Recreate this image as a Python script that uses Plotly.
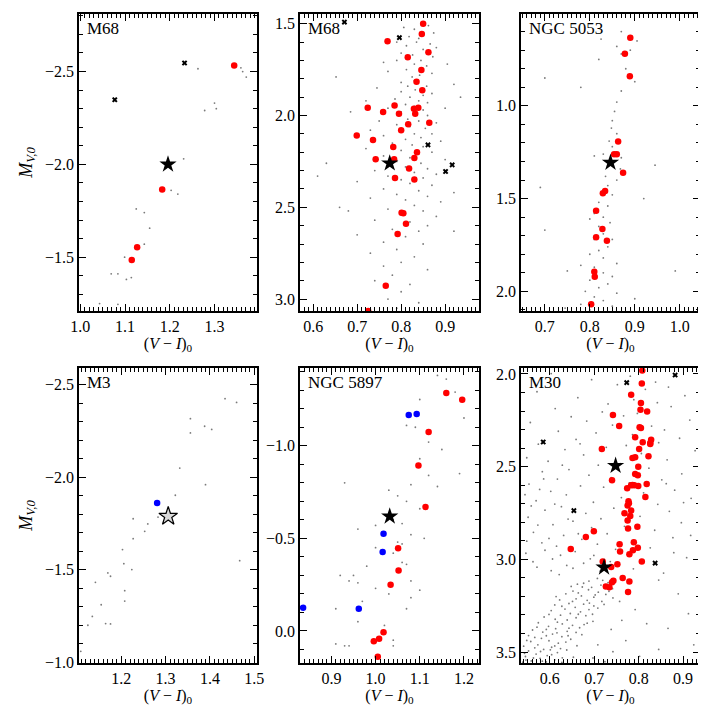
import plotly.graph_objects as go

FONT = "Liberation Serif"
RED = "#ff0000"
BLUE = "#0000ff"
GREY = "#7a7a7a"

# ---------------- M68, bright giants ----------------
m68a_field = [(1.263, -2.515), (1.359, -2.52), (1.363, -2.50), (1.371, -2.47), (1.300, -2.33),
              (1.304, -2.30), (1.278, -2.29), (1.231, -2.03), (1.203, -1.86), (1.218, -1.84),
              (1.125, -1.76), (1.143, -1.74), (1.155, -1.656), (1.143, -1.57), (1.099, -1.50),
              (1.069, -1.41), (1.084, -1.41), (1.103, -1.38), (1.114, -1.39), (1.043, -1.25),
              (1.084, -1.246)]
m68a_red = [(1.344, -2.533), (1.183, -1.864), (1.127, -1.553), (1.115, -1.485)]
m68a_cross = [(1.233, -2.546), (1.077, -2.348)]
m68a_star = [(1.196, -2.00)]

# ---------------- M68, fainter giants ----------------
m68b_field = [(0.806, 1.52), (0.83, 1.53), (0.862, 1.51), (0.874, 1.55), (0.818, 1.57), (0.84, 1.58),
              (0.79, 1.60), (0.812, 1.62), (0.835, 1.60), (0.866, 1.61), (0.88, 1.63), (0.85, 1.64),
              (0.80, 1.66), (0.826, 1.67), (0.872, 1.68), (0.79, 1.70), (0.845, 1.70), (0.76, 1.71),
              (0.83, 1.72), (0.858, 1.73), (0.905, 1.72), (0.812, 1.75), (0.77, 1.76), (0.87, 1.77),
              (0.842, 1.78), (0.825, 1.79), (0.652, 1.79), (0.83, 1.81), (0.80, 1.82), (0.815, 1.84),
              (0.858, 1.84), (0.92, 1.83), (0.745, 1.85), (0.832, 1.86), (0.80, 1.87), (0.87, 1.88),
              (0.85, 1.89), (0.82, 1.90), (0.786, 1.91), (0.84, 1.92), (0.72, 1.92), (0.86, 1.93),
              (0.935, 1.90), (0.81, 1.94), (0.83, 1.95), (0.77, 1.96), (0.90, 1.96), (0.85, 1.97),
              (0.685, 1.98), (0.80, 1.98), (0.86, 2.00), (0.815, 2.02), (0.75, 2.03), (0.84, 2.03),
              (0.88, 2.04), (0.79, 2.05), (0.82, 2.06), (0.855, 2.07), (0.73, 2.08), (0.80, 2.09),
              (0.83, 2.10), (0.87, 2.10), (0.76, 2.11), (0.845, 2.12), (0.81, 2.13), (0.89, 2.14),
              (0.78, 2.15), (0.825, 2.16), (0.85, 2.17), (0.72, 2.18), (0.80, 2.19), (0.87, 2.20),
              (0.84, 2.21), (0.76, 2.22), (0.82, 2.23), (0.90, 2.24), (0.63, 2.26), (0.79, 2.25),
              (0.845, 2.26), (0.81, 2.28), (0.86, 2.29), (0.74, 2.30), (0.83, 2.31), (0.88, 2.32),
              (0.77, 2.33), (0.85, 2.34), (0.61, 2.33), (0.80, 2.35), (0.70, 2.36), (0.82, 2.37),
              (0.87, 2.38), (0.76, 2.40), (0.84, 2.41), (0.92, 2.42), (0.79, 2.43), (0.86, 2.44),
              (0.73, 2.45), (0.81, 2.46), (0.89, 2.47), (0.83, 2.49), (0.66, 2.50), (0.77, 2.51),
              (0.85, 2.52), (0.68, 2.52), (0.80, 2.54), (0.88, 2.55), (0.74, 2.57), (0.82, 2.58),
              (0.86, 2.60), (0.78, 2.62), (0.84, 2.63), (0.92, 2.63), (0.70, 2.65), (0.81, 2.66),
              (0.76, 2.69), (0.85, 2.70), (0.79, 2.73), (0.73, 2.75), (0.83, 2.77), (0.80, 2.80),
              (0.76, 2.82), (0.86, 2.84), (0.78, 2.87), (0.74, 2.90), (0.82, 2.92), (0.80, 2.96),
              (0.77, 3.00), (0.84, 3.02), (0.79, 3.05)]
m68b_red = [(0.850, 1.500), (0.847, 1.556), (0.769, 1.596), (0.862, 1.656), (0.815, 1.682),
            (0.846, 1.752), (0.835, 1.816), (0.848, 1.863), (0.724, 1.958), (0.785, 1.945),
            (0.759, 1.981), (0.795, 1.991), (0.829, 1.963), (0.839, 1.958), (0.832, 1.991),
            (0.864, 2.040), (0.816, 2.047), (0.800, 2.080), (0.699, 2.109), (0.736, 2.134),
            (0.782, 2.172), (0.836, 2.200), (0.830, 2.231), (0.742, 2.238), (0.784, 2.238),
            (0.818, 2.289), (0.786, 2.341), (0.830, 2.349), (0.801, 2.530), (0.805, 2.532),
            (0.811, 2.589), (0.792, 2.645), (0.765, 2.927), (0.725, 3.065)]
m68b_cross = [(0.671, 1.491), (0.796, 1.576), (0.861, 2.160), (0.916, 2.269), (0.901, 2.305)]
m68b_star = [(0.774, 2.260)]

# ---------------- NGC 5053 ----------------
n5053_field = [(0.87, 0.60), (0.905, 0.65), (0.86, 0.68), (0.89, 0.70), (0.87, 0.72), (0.825, 0.64),
               (0.82, 0.75), (0.88, 0.80), (0.70, 0.85), (0.90, 0.87), (0.78, 0.90), (0.87, 0.92),
               (0.86, 0.98), (0.855, 1.03), (0.85, 1.08), (0.848, 1.12), (0.86, 1.15), (0.843, 1.19),
               (0.85, 1.22), (0.83, 1.26), (0.81, 1.27), (0.87, 1.28), (0.84, 1.32), (0.868, 1.34),
               (0.945, 1.32), (0.835, 1.38), (0.86, 1.40), (0.69, 1.44), (0.84, 1.43), (0.83, 1.46),
               (0.85, 1.48), (0.92, 1.50), (0.82, 1.52), (0.84, 1.54), (0.81, 1.58), (0.83, 1.60),
               (0.80, 1.61), (0.845, 1.63), (0.82, 1.65), (0.70, 1.67), (0.83, 1.69), (0.81, 1.72),
               (0.85, 1.72), (0.84, 1.76), (0.82, 1.78), (0.80, 1.80), (0.83, 1.82), (0.86, 1.85),
               (0.78, 1.86), (0.81, 1.87), (0.75, 1.89), (0.99, 1.89), (0.83, 1.90), (0.85, 1.92),
               (0.80, 1.94), (0.84, 1.96), (0.82, 1.98), (0.79, 2.00), (0.86, 2.01), (0.81, 2.03),
               (0.90, 2.04), (0.83, 2.05), (0.78, 2.07), (0.85, 2.08), (0.745, 2.09), (0.80, 2.10)]
n5053_red = [(0.890, 0.633), (0.878, 0.719), (0.889, 0.841), (0.863, 1.192), (0.854, 1.261),
             (0.860, 1.261), (0.874, 1.361), (0.834, 1.459), (0.829, 1.471), (0.814, 1.565),
             (0.828, 1.664), (0.814, 1.709), (0.838, 1.727), (0.810, 1.894), (0.811, 1.921),
             (0.803, 2.070)]
n5053_star = [(0.846, 1.306)]

# ---------------- M3 ----------------
m3_field = [(1.434, -2.424), (1.460, -2.404), (1.356, -2.316), (1.388, -2.275), (1.404, -2.258),
            (1.356, -2.239), (1.332, -2.049), (1.390, -1.959), (1.322, -1.902), (1.283, -1.784),
            (1.260, -1.747), (1.253, -1.707), (1.227, -1.775), (1.227, -1.667), (1.203, -1.608),
            (1.206, -1.532), (1.224, -1.500), (1.142, -1.431), (1.170, -1.482), (1.176, -1.464),
            (1.208, -1.386), (1.208, -1.330), (1.155, -1.310), (1.135, -1.247), (1.125, -1.199),
            (1.165, -1.208), (1.176, -1.206), (1.467, -1.548), (1.109, -1.058)]
m3_blue = [(1.281, -1.860)]
m3_star = [(1.306, -1.788)]

# ---------------- NGC 5897 ----------------
n5897_field = [(1.14, -1.38), (1.16, -1.36), (1.18, -1.29), (1.10, -1.25), (1.20, -1.15), (1.07, -1.11),
               (1.09, -1.10), (1.12, -1.02), (1.15, -0.98), (1.10, -0.93), (1.19, -0.85), (1.12, -0.84),
               (0.93, -0.80), (1.08, -0.79), (1.03, -0.76), (1.14, -0.78), (1.05, -0.73), (1.07, -0.70),
               (1.10, -0.66), (1.04, -0.60), (1.00, -0.57), (1.06, -0.58), (0.96, -0.55), (1.08, -0.52),
               (1.11, -0.50), (1.05, -0.48), (1.06, -0.47), (1.00, -0.45), (1.04, -0.42), (1.06, -0.37),
               (1.07, -0.36), (0.98, -0.35), (0.92, -0.30), (0.95, -0.30), (0.94, -0.27), (0.96, -0.26),
               (1.00, -0.23), (1.03, -0.20), (1.10, -0.22), (1.08, -0.18), (0.97, -0.16), (1.07, -0.12),
               (0.91, -0.12), (1.02, -0.03), (0.96, -0.05), (1.04, 0.05), (0.91, 0.07), (0.93, 0.08),
               (0.94, 0.08), (1.04, 0.08), (1.08, -0.27)]
n5897_red = [(1.160, -1.285), (1.196, -1.249), (1.120, -1.074), (1.097, -0.893), (1.113, -0.669),
             (1.051, -0.446), (1.052, -0.327), (1.034, -0.250), (1.018, 0.007), (1.008, 0.042),
             (0.996, 0.056), (1.005, 0.139)]
n5897_blue = [(1.075, -1.166), (1.093, -1.172), (1.018, -0.525), (1.016, -0.426), (0.836, -0.126),
              (0.962, -0.120)]
n5897_star = [(1.032, -0.619)]

# ---------------- M30 ----------------
m30_field = [
    # sparse field above the turnoff
    (0.603, 1.998), (0.694, 2.031), (0.781, 2.012), (0.838, 2.044), (0.867, 2.071), (0.752, 2.058),
    (0.571, 2.096), (0.815, 2.083), (0.904, 2.117), (0.663, 2.128), (0.789, 2.139), (0.731, 2.162),
    (0.842, 2.155), (0.612, 2.187), (0.873, 2.176), (0.718, 2.205), (0.797, 2.213), (0.648, 2.231),
    (0.766, 2.226), (0.915, 2.249), (0.556, 2.262), (0.683, 2.254), (0.829, 2.281), (0.741, 2.276),
    (0.619, 2.309), (0.858, 2.302), (0.786, 2.327), (0.704, 2.318), (0.659, 2.353), (0.892, 2.347),
    (0.574, 2.379), (0.772, 2.386), (0.845, 2.371), (0.634, 2.408), (0.727, 2.396), (0.927, 2.414),
    (0.676, 2.437), (0.806, 2.429), (0.548, 2.452), (0.864, 2.463), (0.596, 2.471), (0.759, 2.484),
    (0.709, 2.492), (0.643, 2.516), (0.823, 2.508), (0.583, 2.527), (0.897, 2.539), (0.688, 2.546),
    (0.738, 2.559), (0.617, 2.567), (0.852, 2.571), (0.779, 2.588), (0.553, 2.594), (0.669, 2.604),
    (0.721, 2.611), (0.881, 2.627), (0.602, 2.633), (0.811, 2.641), (0.637, 2.652), (0.761, 2.667),
    (0.918, 2.671), (0.569, 2.684), (0.698, 2.692), (0.843, 2.703), (0.626, 2.716), (0.744, 2.724),
    (0.589, 2.735), (0.869, 2.741), (0.681, 2.752), (0.803, 2.768), (0.551, 2.773), (0.715, 2.781),
    (0.652, 2.794), (0.896, 2.802), (0.607, 2.813), (0.768, 2.822), (0.694, 2.829), (0.836, 2.843),
    (0.563, 2.854), (0.729, 2.862), (0.631, 2.871), (0.877, 2.883), (0.672, 2.892), (0.791, 2.903),
    (0.582, 2.911), (0.707, 2.918), (0.615, 2.929), (0.826, 2.938), (0.748, 2.946), (0.657, 2.958),
    (0.546, 2.967), (0.699, 2.979), (0.908, 2.991), (0.606, 2.998), (0.736, 3.012), (0.676, 3.021),
    (0.638, 3.033), (0.571, 3.042), (0.788, 3.051), (0.713, 3.063), (0.856, 3.074), (0.621, 3.082),
    (0.577, 2.623), (0.598, 2.887), (0.558, 2.712), (0.641, 2.783), (0.589, 2.951), (0.664, 2.862),
    (0.624, 2.978), (0.562, 3.013), (0.603, 3.061), (0.652, 3.048), (0.691, 2.997), (0.548, 2.902),
    (0.573, 2.815), (0.611, 2.702), (0.544, 2.651), (0.586, 2.566), (0.628, 2.492), (0.668, 2.377),
    (0.862, 2.592), (0.901, 2.694), (0.917, 2.871), (0.879, 2.964), (0.845, 3.112), (0.889, 3.186),
    (0.912, 3.293), (0.866, 3.372), (0.924, 3.461), (0.802, 3.523), (0.845, 3.486), (0.771, 3.438),
    (0.818, 3.347), (0.792, 3.271), (0.757, 3.227), (0.762, 3.329), (0.738, 3.378), (0.742, 3.498),
    (0.708, 3.461), (0.697, 3.532), (0.724, 3.552),
    # dense subgiant / turnoff band
    (0.707, 3.103), (0.688, 3.117), (0.731, 3.126), (0.662, 3.134), (0.715, 3.139), (0.694, 3.151),
    (0.741, 3.158), (0.673, 3.149), (0.652, 3.171), (0.709, 3.177), (0.687, 3.164), (0.726, 3.189),
    (0.636, 3.186), (0.671, 3.197), (0.699, 3.204), (0.659, 3.213), (0.684, 3.221), (0.622, 3.219),
    (0.717, 3.227), (0.643, 3.238), (0.676, 3.242), (0.699, 3.251), (0.611, 3.246), (0.657, 3.259),
    (0.634, 3.268), (0.688, 3.271), (0.669, 3.283), (0.603, 3.276), (0.646, 3.292), (0.624, 3.301),
    (0.681, 3.304), (0.587, 3.311), (0.659, 3.315), (0.639, 3.327), (0.612, 3.323), (0.697, 3.334),
    (0.574, 3.342), (0.628, 3.348), (0.651, 3.356), (0.597, 3.361), (0.667, 3.369), (0.613, 3.374),
    (0.561, 3.381), (0.639, 3.388), (0.584, 3.392), (0.606, 3.403), (0.672, 3.406), (0.552, 3.411),
    (0.627, 3.417), (0.581, 3.426), (0.647, 3.431), (0.598, 3.439), (0.557, 3.443), (0.619, 3.452),
    (0.573, 3.461), (0.661, 3.466), (0.541, 3.468), (0.604, 3.474), (0.586, 3.486), (0.638, 3.489),
    (0.552, 3.494), (0.617, 3.503), (0.569, 3.511), (0.594, 3.519), (0.545, 3.524), (0.653, 3.528),
    (0.578, 3.534), (0.611, 3.542), (0.558, 3.548), (0.539, 3.555), (0.627, 3.556), (0.592, 3.553),
    (0.719, 3.113), (0.676, 3.129), (0.648, 3.146), (0.733, 3.172), (0.664, 3.181), (0.702, 3.192),
    (0.614, 3.201), (0.689, 3.236), (0.651, 3.227), (0.627, 3.253), (0.708, 3.263), (0.664, 3.296),
    (0.598, 3.297), (0.617, 3.339), (0.684, 3.344), (0.643, 3.371), (0.571, 3.366), (0.592, 3.378),
    (0.659, 3.394), (0.616, 3.396), (0.566, 3.421), (0.636, 3.446), (0.592, 3.412), (0.548, 3.437),
    (0.611, 3.467), (0.566, 3.477), (0.624, 3.481), (0.543, 3.507), (0.579, 3.497), (0.604, 3.514),
    (0.563, 3.532), (0.628, 3.531), (0.546, 3.543), (0.583, 3.549), (0.601, 3.488), (0.641, 3.412),
    (0.677, 3.352), (0.696, 3.296), (0.722, 3.243), (0.742, 3.208),
]
m30_red = [(0.808, 1.982), (0.807, 2.052), (0.783, 2.112), (0.805, 2.157), (0.804, 2.193),
           (0.819, 2.202), (0.742, 2.221), (0.756, 2.281), (0.802, 2.288), (0.805, 2.292),
           (0.792, 2.342), (0.828, 2.355), (0.826, 2.372), (0.809, 2.369), (0.826, 2.378),
           (0.717, 2.405), (0.801, 2.405), (0.822, 2.444), (0.786, 2.453), (0.792, 2.450),
           (0.799, 2.500), (0.792, 2.540), (0.798, 2.547), (0.740, 2.574), (0.818, 2.594),
           (0.786, 2.599), (0.790, 2.601), (0.799, 2.604), (0.783, 2.601), (0.774, 2.617),
           (0.815, 2.664), (0.777, 2.687), (0.778, 2.698), (0.775, 2.709), (0.783, 2.737),
           (0.768, 2.752), (0.781, 2.766), (0.775, 2.790), (0.776, 2.833), (0.797, 2.824),
           (0.699, 2.849), (0.681, 2.879), (0.789, 2.908), (0.757, 2.919), (0.647, 2.944),
           (0.798, 2.937), (0.787, 2.951), (0.758, 2.957), (0.779, 2.973), (0.807, 3.011),
           (0.719, 3.011), (0.752, 3.027), (0.738, 3.041), (0.764, 3.101), (0.779, 3.120),
           (0.740, 3.124), (0.743, 3.115), (0.726, 3.147), (0.734, 3.151), (0.776, 3.176)]
m30_cross = [(0.773, 2.047), (0.882, 2.006), (0.585, 2.367), (0.654, 2.737), (0.837, 3.020)]
m30_star = [(0.748, 2.495), (0.722, 3.043)]

# name, field, red, blue, cross, filled star, open star, x range, y range (bottom, top)
panels = [
    ("M68", m68a_field, m68a_red, [], m68a_cross, m68a_star, [], [0.997, 1.395], [-1.21, -2.81]),
    ("M68", m68b_field, m68b_red, [], m68b_cross, m68b_star, [], [0.570, 0.977], [3.065, 1.447]),
    ("NGC 5053", n5053_field, n5053_red, [], [], n5053_star, [], [0.647, 1.045], [2.106, 0.505]),
    ("M3", m3_field, [], m3_blue, [], [], m3_star, [1.105, 1.506], [-0.995, -2.59]),
    ("NGC 5897", n5897_field, n5897_red, n5897_blue, [], n5897_star, [], [0.829, 1.234], [0.173, -1.42]),
    ("M30", m30_field, m30_red, [], m30_cross, m30_star, [], [0.535, 0.938], [3.559, 1.968]),
]

W = H = 706
col_px = [(71, 249), (292, 471), (513, 692)]
row_px = [(6, 303), (360, 655)]


def xy(points):
    return [p[0] for p in points], [p[1] for p in points]


fig = go.Figure()
layout = {}
annotations = []

for i, (name, field, red, blue, cross, star, ostar, xr, yr) in enumerate(panels):
    n = i + 1
    xs = "x" if n == 1 else f"x{n}"
    ys = "y" if n == 1 else f"y{n}"
    col, row = i % 3, i // 3

    groups = [
        (field, dict(size=1.8, color=GREY, symbol="circle")),
        (red, dict(size=6.5, color=RED, symbol="circle")),
        (blue, dict(size=6.5, color=BLUE, symbol="circle")),
        (cross, dict(size=5, color="black", symbol="x")),
        (star, dict(size=13, color="black", symbol="star")),
        (ostar, dict(size=14, color="#d9d9d9", symbol="star", line=dict(color="black", width=1.2))),
    ]
    for pts, marker in groups:
        if not pts:
            continue
        px, py = xy(pts)
        fig.add_trace(go.Scatter(x=px, y=py, mode="markers", marker=marker,
                                 xaxis=xs, yaxis=ys, showlegend=False, hoverinfo="skip"))

    x0, x1 = col_px[col]
    y0, y1 = row_px[row]
    common = dict(showline=True, linecolor="black", linewidth=1.5, mirror="allticks",
                  ticks="inside", ticklen=7, tickwidth=1, tickcolor="black",
                  showgrid=False, zeroline=False, automargin=False,
                  tickfont=dict(family=FONT, size=16, color="black"), tickformat=".1f")
    layout["xaxis" if n == 1 else f"xaxis{n}"] = dict(
        common, domain=[x0 / W, x1 / W], anchor=ys, range=xr, tick0=0, dtick=0.1,
        minor=dict(ticks="inside", ticklen=4, dtick=0.01, tickcolor="black", tickwidth=1),
        title=dict(text="(<i>V</i> − <i>I</i>)<sub>0</sub>", font=dict(family=FONT, size=16, color="black"),
                   standoff=0))
    yaxis = dict(
        common, domain=[1 - y1 / H, 1 - y0 / H], anchor=xs, range=yr, tick0=0, dtick=0.5,
        minor=dict(ticks="inside", ticklen=4, dtick=0.1, tickcolor="black", tickwidth=1))
    if col == 0:
        yaxis["title"] = dict(text="<i>M</i><sub><i>V,0</i></sub>",
                              font=dict(family=FONT, size=18, color="black"), standoff=8)
    layout["yaxis" if n == 1 else f"yaxis{n}"] = yaxis
    annotations.append(dict(text=name, xref=f"{xs} domain", yref=f"{ys} domain", x=0.035, y=0.99,
                            xanchor="left", yanchor="top", showarrow=False,
                            font=dict(family=FONT, size=17, color="black")))

fig.update_layout(**layout)
fig.update_layout(width=W, height=H, margin=dict(l=0, r=0, t=0, b=0),
                  paper_bgcolor="white", plot_bgcolor="white",
                  annotations=annotations, font=dict(family=FONT, color="black"))

fig.write_html("out.html")
